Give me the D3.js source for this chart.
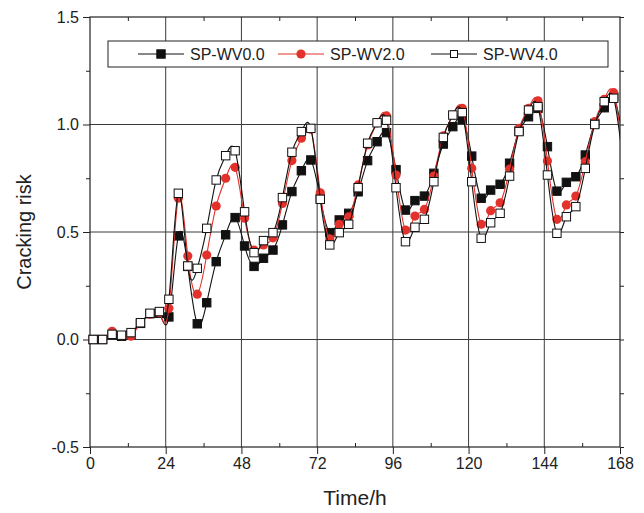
<!DOCTYPE html>
<html>
<head>
<meta charset="utf-8">
<script src="https://cdn.jsdelivr.net/npm/d3@7"></script>
<style>
  body { margin: 0; background: #fff; }
  text { font-family: "Liberation Sans", Arial, sans-serif; fill: #222; }
</style>
</head>
<body>
<div id="chart"></div>
<script>
// sampling times (h), one point every 3 h; the last one lies past the frame and is clipped
var hours = [1, 4, 7, 10, 13, 16, 19, 22, 25, 28, 31, 34, 37, 40, 43, 46, 49, 52, 55, 58,
  61, 64, 67, 70, 73, 76, 79, 82, 85, 88, 91, 94, 97, 100, 103, 106, 109, 112, 115, 118,
  121, 124, 127, 130, 133, 136, 139, 142, 145, 148, 151, 154, 157, 160, 163, 166, 169];

var wv00 = [0.0, 0.0, 0.022, 0.015, 0.022, 0.075, 0.12, 0.122, 0.105, 0.482, 0.34, 0.073,
  0.171, 0.362, 0.487, 0.567, 0.435, 0.34, 0.378, 0.416, 0.533, 0.688, 0.785, 0.835, 0.655,
  0.497, 0.556, 0.587, 0.687, 0.832, 0.92, 0.962, 0.79, 0.602, 0.646, 0.667, 0.773, 0.909,
  0.99, 1.024, 0.853, 0.657, 0.695, 0.722, 0.82, 0.97, 1.036, 1.075, 0.897, 0.69, 0.731,
  0.757, 0.858, 1.005, 1.078, 1.129, 0.93];

var wv20 = [0.0, 0.0, 0.038, 0.018, 0.015, 0.078, 0.118, 0.125, 0.145, 0.657, 0.388, 0.211,
  0.393, 0.621, 0.75, 0.801, 0.564, 0.416, 0.44, 0.473, 0.633, 0.832, 0.936, 0.978, 0.682,
  0.468, 0.536, 0.571, 0.719, 0.905, 1.008, 1.04, 0.765, 0.509, 0.574, 0.605, 0.76, 0.947,
  1.044, 1.075, 0.796, 0.536, 0.599, 0.636, 0.792, 0.982, 1.075, 1.11, 0.83, 0.559, 0.626,
  0.667, 0.827, 1.013, 1.117, 1.148, 0.86];

var wv40 = [0.0, 0.0, 0.024, 0.02, 0.032, 0.078, 0.122, 0.13, 0.187, 0.68, 0.342, 0.331,
  0.517, 0.742, 0.855, 0.878, 0.594, 0.404, 0.46, 0.497, 0.66, 0.871, 0.967, 0.982, 0.652,
  0.44, 0.497, 0.536, 0.706, 0.913, 1.008, 1.02, 0.706, 0.455, 0.522, 0.559, 0.734, 0.94,
  1.044, 1.055, 0.734, 0.471, 0.543, 0.587, 0.76, 0.967, 1.067, 1.083, 0.765, 0.494, 0.571,
  0.618, 0.796, 1.0, 1.106, 1.122, 0.82];

var seriesNames = ["SP-WV0.0", "SP-WV2.0", "SP-WV4.0"];
var xTicks = [0, 24, 48, 72, 96, 120, 144, 168];
var yTicks = [-0.5, 0.0, 0.5, 1.0, 1.5];

var width = 644, height = 513;
var margin = { top: 17, right: 24, bottom: 66, left: 90 };
var w = width - margin.left - margin.right;
var h = height - margin.top - margin.bottom;

var svg = d3.select("#chart").append("svg")
  .attr("width", width)
  .attr("height", height);

var g = svg.append("g")
  .attr("transform", "translate(" + margin.left + "," + margin.top + ")");

var x = d3.scaleLinear().domain([0, 168]).range([0, w]);
var y = d3.scaleLinear().domain([-0.5, 1.5]).range([h, 0]);

// grid lines at the inner major ticks
g.append("g").selectAll("line")
  .data(xTicks.slice(1, -1))
  .enter().append("line")
  .attr("x1", function(d) { return x(d); })
  .attr("x2", function(d) { return x(d); })
  .attr("y1", 0).attr("y2", h)
  .attr("stroke", "#3a3a3a").attr("stroke-width", 1);

g.append("g").selectAll("line")
  .data(yTicks.slice(1, -1))
  .enter().append("line")
  .attr("x1", 0).attr("x2", w)
  .attr("y1", function(d) { return y(d); })
  .attr("y2", function(d) { return y(d); })
  .attr("stroke", "#3a3a3a").attr("stroke-width", 1);

// axes: majors with labels, minors without
var minorX = d3.range(12, 168, 24);
var minorY = d3.range(-0.25, 1.5, 0.5);

// plain hyphen for negatives, like the original
var yFormat = function(d) { return d3.format(".1f")(d).replace("\u2212", "-"); };

g.append("g")
  .attr("transform", "translate(0," + h + ")")
  .call(d3.axisBottom(x).tickValues(xTicks).tickSize(7).tickPadding(4))
  .call(function(a) { a.select(".domain").remove(); })
  .selectAll("text").style("font-size", "16px");

g.append("g")
  .attr("transform", "translate(0," + h + ")")
  .call(d3.axisBottom(x).tickValues(minorX).tickSize(-4).tickFormat(""))
  .call(function(a) { a.select(".domain").remove(); });

g.append("g")
  .call(d3.axisTop(x).tickValues(minorX).tickSize(-4).tickFormat(""))
  .call(function(a) { a.select(".domain").remove(); });

g.append("g")
  .call(d3.axisLeft(y).tickValues(yTicks).tickSize(7).tickPadding(4).tickFormat(yFormat))
  .call(function(a) { a.select(".domain").remove(); })
  .selectAll("text").style("font-size", "16px");

g.append("g")
  .call(d3.axisLeft(y).tickValues(minorY).tickSize(4).tickFormat(""))
  .call(function(a) { a.select(".domain").remove(); });

g.append("g")
  .attr("transform", "translate(" + w + ",0)")
  .call(d3.axisRight(y).tickValues(yTicks.concat(minorY)).tickSize(4).tickFormat(""))
  .call(function(a) { a.select(".domain").remove(); });

g.selectAll(".tick line").attr("stroke", "#222");
g.selectAll(".tick text").attr("fill", "#222")
  .style("font-family", "'Liberation Sans', Arial, sans-serif");

// frame
g.append("rect")
  .attr("width", w).attr("height", h)
  .attr("fill", "none").attr("stroke", "#222").attr("stroke-width", 1.2);

// axis titles
svg.append("text")
  .attr("x", margin.left + w / 2).attr("y", 505)
  .attr("text-anchor", "middle")
  .style("font-size", "21px")
  .text("Time/h");

svg.append("text")
  .attr("transform", "translate(31," + (margin.top + y(0.5)) + ") rotate(-90)")
  .attr("text-anchor", "middle")
  .style("font-size", "20px")
  .text("Cracking risk");

// clip so the last spline segment stops at the right edge
g.append("clipPath").attr("id", "clip")
  .append("rect").attr("width", w).attr("height", h);

var plot = g.append("g");

var series = [
  { name: seriesNames[0], values: wv00, line: "#111", marker: "square", fill: "#111" },
  { name: seriesNames[1], values: wv20, line: "#e3312b", marker: "circle", fill: "#e3312b" },
  { name: seriesNames[2], values: wv40, line: "#111", marker: "square", fill: "#fff" }
];

var line = d3.line()
  .x(function(d, i) { return x(hours[i]); })
  .y(function(d) { return y(d); })
  .curve(d3.curveNatural);

function drawMarker(sel, s) {
  if (s.marker === "circle") {
    sel.append("circle").attr("r", 4.6)
      .attr("fill", s.fill).attr("stroke", "none");
  } else {
    sel.append("rect")
      .attr("x", -4.2).attr("y", -4.2).attr("width", 8.4).attr("height", 8.4)
      .attr("fill", s.fill).attr("stroke", "#111").attr("stroke-width", 1);
  }
}

series.forEach(function(s) {
  var layer = plot.append("g");
  layer.append("path")
    .attr("clip-path", "url(#clip)")
    .attr("d", line(s.values))
    .attr("fill", "none")
    .attr("stroke", s.line)
    .attr("stroke-width", 1.1);

  // markers only for points inside the time range
  var pts = s.values.map(function(v, i) { return { t: hours[i], v: v }; })
    .filter(function(p) { return p.t <= 168; });

  layer.selectAll("g.pt")
    .data(pts)
    .enter().append("g")
    .attr("class", "pt")
    .attr("transform", function(d) { return "translate(" + x(d.t) + "," + y(d.v) + ")"; })
    .each(function() { drawMarker(d3.select(this), s); });
});

// legend
var legend = svg.append("g").attr("transform", "translate(108,41)");
legend.append("rect")
  .attr("width", 500).attr("height", 26)
  .attr("fill", "#fff").attr("stroke", "#222").attr("stroke-width", 1);

var legendX = [30, 170, 323];
series.forEach(function(s, i) {
  var item = legend.append("g").attr("transform", "translate(" + legendX[i] + ",13)");
  item.append("line")
    .attr("x1", 0).attr("x2", 46)
    .attr("stroke", s.line).attr("stroke-width", 1.1);
  var m = item.append("g").attr("transform", "translate(23,0)");
  if (i === 2) {
    m.append("rect").attr("x", -3.5).attr("y", -3.5).attr("width", 7).attr("height", 7)
      .attr("fill", "#fff").attr("stroke", "#111");
  } else {
    drawMarker(m, s);
  }
  item.append("text")
    .attr("x", 52).attr("y", 6)
    .style("font-size", "16px")
    .text(s.name);
});
</script>
</body>
</html>
